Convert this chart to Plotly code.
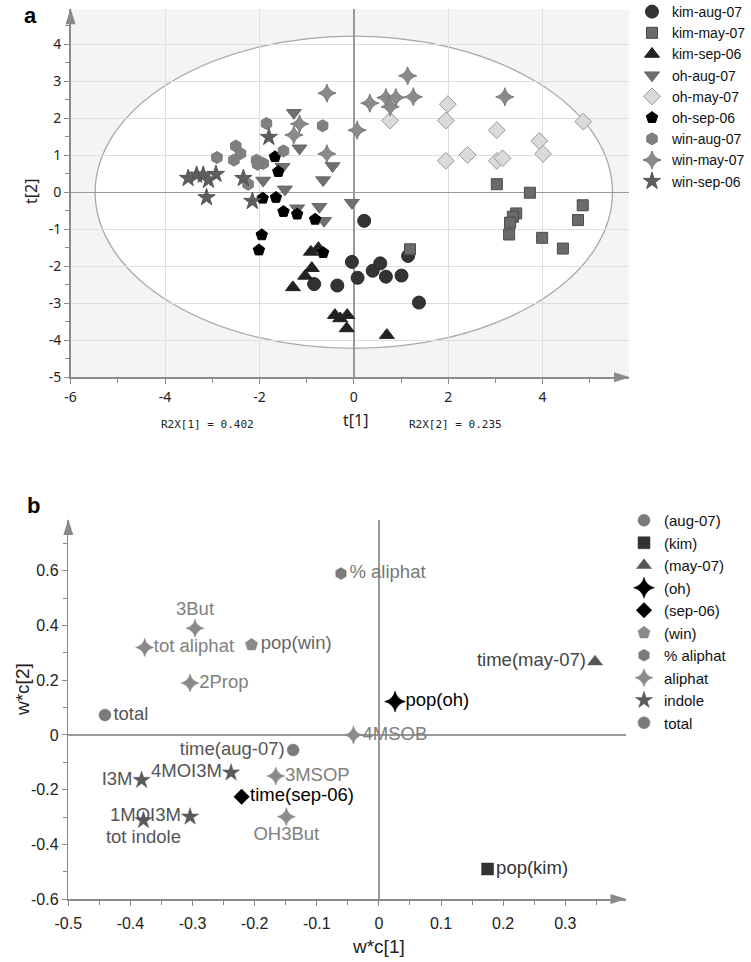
import plotly.graph_objects as go

# ---------------- Panel a: scores t[1] / t[2] ----------------
kim_aug07_x = [0.22, -0.04, 0.08, 0.40, 0.56, 0.68, 1.01, 1.15, 1.38, -0.35, -0.84]
kim_aug07_y = [-0.77, -1.88, -2.31, -2.12, -1.92, -2.28, -2.25, -1.72, -2.98, -2.52, -2.48]
kim_may07_x = [3.03, 3.73, 3.44, 3.37, 3.31, 3.29, 3.99, 4.43, 1.19, 4.85, 4.75]
kim_may07_y = [0.22, -0.01, -0.57, -0.66, -0.82, -1.14, -1.23, -1.52, -1.54, -0.35, -0.75]
kim_sep06_x = [-0.91, -0.75, -0.89, -1.03, -1.29, -0.40, -0.29, -0.14, -0.15, 0.70]
kim_sep06_y = [-1.61, -1.51, -2.05, -2.26, -2.57, -3.32, -3.41, -3.32, -3.68, -3.86]
oh_aug07_x = [-1.27, -1.15, -0.45, -0.65, -1.51, -1.92, -1.46, -1.20, -0.73, -0.63, -0.04]
oh_aug07_y = [2.15, 1.19, 0.71, 0.33, 0.69, 0.32, 0.08, -0.43, -0.39, -0.77, -0.28]
oh_may07_x = [1.99, 1.95, 0.77, 3.03, 3.93, 4.01, 4.86, 1.95, 2.41, 3.03, 3.15]
oh_may07_y = [2.38, 1.94, 1.94, 1.68, 1.39, 1.04, 1.91, 0.85, 1.01, 0.85, 0.92]
oh_sep06_x = [-1.67, -1.60, -1.93, -1.65, -1.49, -1.20, -0.82, -0.65, -1.95, -2.01]
oh_sep06_y = [0.96, 0.56, -0.16, -0.14, -0.52, -0.59, -0.73, -1.63, -1.15, -1.56]
win_aug07_x = [-2.90, -2.50, -2.40, -2.54, -2.06, -1.92, -2.04, -2.24, -1.85, -1.49, -0.66]
win_aug07_y = [0.94, 1.25, 1.05, 0.87, 0.87, 0.78, 0.76, 0.22, 1.86, 1.12, 1.80]
win_may07_x = [-0.57, -1.15, -1.27, -0.57, 1.14, 0.68, 0.89, 1.26, 0.77, 0.34, 3.20, 0.07]
win_may07_y = [2.68, 1.85, 1.55, 1.04, 3.15, 2.56, 2.56, 2.58, 2.31, 2.41, 2.58, 1.68]
win_sep06_x = [-3.51, -3.33, -3.19, -3.08, -2.92, -3.12, -2.34, -2.15, -1.80]
win_sep06_y = [0.38, 0.47, 0.47, 0.33, 0.49, -0.14, 0.38, -0.24, 1.49]

a_xtickvals = [-6, -4, -2, 0, 2, 4]
a_xticktext = ["-6", "-4", "-2", "0", "2", "4"]
a_ytickvals = [-5, -4, -3, -2, -1, 0, 1, 2, 3, 4]
a_yticktext = ["-5", "-4", "-3", "-2", "-1", "0", "1", "2", "3", "4"]

# ---------------- Panel b: loadings w*c[1] / w*c[2] ----------------
aug07_lab = ["time(aug-07)"]; aug07_x = [-0.138]; aug07_y = [-0.055]
kim_lab = ["pop(kim)"]; kim_x = [0.175]; kim_y = [-0.49]
may07_lab = ["time(may-07)"]; may07_x = [0.348]; may07_y = [0.268]
oh_lab = ["pop(oh)"]; oh_x = [0.026]; oh_y = [0.122]
sep06_lab = ["time(sep-06)"]; sep06_x = [-0.221]; sep06_y = [-0.226]
win_lab = ["pop(win)"]; win_x = [-0.205]; win_y = [0.33]
pct_lab = ["% aliphat"]; pct_x = [-0.061]; pct_y = [0.59]
aliphat_lab = ["3But", "tot aliphat", "2Prop", "4MSOB", "3MSOP", "OH3But"]
aliphat_x = [-0.296, -0.377, -0.304, -0.041, -0.166, -0.149]
aliphat_y = [0.39, 0.32, 0.19, 0.0, -0.15, -0.299]
indole_lab = ["I3M", "4MOI3M", "1MOI3M", "tot indole"]
indole_x = [-0.382, -0.238, -0.304, -0.379]
indole_y = [-0.165, -0.138, -0.299, -0.312]
total_lab = ["total"]; total_x = [-0.441]; total_y = [0.073]

b_xtickvals = [-0.5, -0.4, -0.3, -0.2, -0.1, 0, 0.1, 0.2, 0.3]
b_xticktext = ["-0.5", "-0.4", "-0.3", "-0.2", "-0.1", "0", "0.1", "0.2", "0.3"]
b_ytickvals = [-0.6, -0.4, -0.2, 0, 0.2, 0.4, 0.6]
b_yticktext = ["-0.6", "-0.4", "-0.2", "0", "0.2", "0.4", "0.6"]

W, H = 751, 962
def px(x):
    return x / W
def py(y):
    return 1 - y / H

fig = go.Figure()

def a_trace(name, xs, ys, symbol, color, line, size=13):
    fig.add_trace(go.Scatter(
        x=xs, y=ys, mode="markers", name=name, xaxis="x", yaxis="y",
        legend="legend",
        marker=dict(symbol=symbol, color=color, size=size,
                    line=dict(color=line, width=1))))

a_trace("kim-aug-07", kim_aug07_x, kim_aug07_y, "circle", "#333333", "#2a2a2a", 13)
a_trace("kim-may-07", kim_may07_x, kim_may07_y, "square", "#6b6b6b", "#4a4a4a", 11)
a_trace("kim-sep-06", kim_sep06_x, kim_sep06_y, "triangle-up", "#222222", "#222222", 13)
a_trace("oh-aug-07", oh_aug07_x, oh_aug07_y, "triangle-down", "#707070", "#666666", 13)
a_trace("oh-may-07", oh_may07_x, oh_may07_y, "diamond", "#dadada", "#9a9a9a", 13)
a_trace("oh-sep-06", oh_sep06_x, oh_sep06_y, "pentagon", "#000000", "#000000", 12)
a_trace("win-aug-07", win_aug07_x, win_aug07_y, "hexagon", "#808080", "#777777", 12)
a_trace("win-may-07", win_may07_x, win_may07_y, "star-diamond", "#8a8a8a", "#7a7a7a", 13)
a_trace("win-sep-06", win_sep06_x, win_sep06_y, "star", "#5e5e5e", "#555555", 13)

def b_trace(name, labs, xs, ys, symbol, color, size, tcolor, tpos):
    fig.add_trace(go.Scatter(
        x=xs, y=ys, mode="markers+text", name=name, xaxis="x2", yaxis="y2",
        legend="legend2", text=labs, textposition=tpos,
        textfont=dict(family="Liberation Sans, Arial", size=18.5, color=tcolor),
        marker=dict(symbol=symbol, color=color, size=size,
                    line=dict(color=color, width=0.5))))

b_trace("(aug-07)", aug07_lab, aug07_x, aug07_y, "circle", "#7b7b7b", 12, "#555555", "middle left")
b_trace("(kim)", kim_lab, kim_x, kim_y, "square", "#333333", 12, "#333333", "middle right")
b_trace("(may-07)", may07_lab, may07_x, may07_y, "triangle-up", "#555555", 13, "#444444", "middle left")
b_trace("(oh)", oh_lab, oh_x, oh_y, "star-diamond", "#000000", 15, "#000000", "middle right")
b_trace("(sep-06)", sep06_lab, sep06_x, sep06_y, "diamond", "#000000", 12, "#000000", "middle right")
b_trace("(win)", win_lab, win_x, win_y, "pentagon", "#8a8a8a", 13, "#666666", "middle right")
b_trace("% aliphat", pct_lab, pct_x, pct_y, "hexagon", "#7a7a7a", 12, "#777777", "middle right")
b_trace("aliphat", aliphat_lab, aliphat_x, aliphat_y, "star-diamond", "#8a8a8a", 13, "#808080",
        ["top center", "middle right", "middle right", "middle right", "middle right", "bottom center"])
b_trace("indole", indole_lab, indole_x, indole_y, "star", "#5a5a5a", 13, "#555555",
        ["middle left", "middle left", "middle left", "bottom center"])
b_trace("total", total_lab, total_x, total_y, "circle", "#7b7b7b", 12, "#555555", "middle right")

tickfont_a = dict(family="Noto Sans, Open Sans, Arial", size=14, color="#222222")
tickfont_b = dict(family="Liberation Sans, Arial", size=16, color="#222222")

# panel geometry (pixels)
a_x0, a_x1 = 70.6, 629.0
a_ybot, a_ytop = 377.3, 9.2
b_x0, b_x1 = 68.3, 625.5
b_ybot, b_ytop = 899.1, 520.0

axcommon = dict(automargin=False, showline=True, linecolor="#8a8a8a", linewidth=1.5,
                ticks="outside", ticklen=5, tickcolor="#8a8a8a",
                zeroline=True, zerolinecolor="#999999", zerolinewidth=1.5)

fig.update_layout(
    width=W, height=H, margin=dict(l=0, r=0, t=0, b=0, pad=0, autoexpand=False),
    paper_bgcolor="white", plot_bgcolor="white",
    showlegend=True, hovermode=False,
    xaxis=dict(domain=[px(a_x0), px(a_x1)], range=[-6, 5.83], anchor="y",
               tickmode="array", tickvals=a_xtickvals, ticktext=a_xticktext,
               showgrid=True, gridcolor="#dedede", gridwidth=1,
               minor=dict(tickmode="linear", tick0=0, dtick=1, ticks="outside",
                          ticklen=4, tickcolor="#8a8a8a", showgrid=False),
               tickfont=tickfont_a, ticklabelstandoff=1, **axcommon),
    yaxis=dict(domain=[py(a_ybot), py(a_ytop)], range=[-5, 4.95], anchor="x",
               tickmode="array", tickvals=a_ytickvals, ticktext=a_yticktext,
               showgrid=True, gridcolor="#dedede", gridwidth=1,
               minor=dict(tickmode="linear", tick0=0, dtick=0.5, ticks="outside",
                          ticklen=4, tickcolor="#8a8a8a", showgrid=False),
               tickfont=tickfont_a, **axcommon),
    xaxis2=dict(domain=[px(b_x0), px(b_x1)], range=[-0.5, 0.397], anchor="y2",
                tickmode="array", tickvals=b_xtickvals, ticktext=b_xticktext,
                showgrid=False,
                minor=dict(tickmode="linear", tick0=0, dtick=0.05, ticks="outside",
                           ticklen=4, tickcolor="#8a8a8a", showgrid=False),
                tickfont=tickfont_b, ticklabelstandoff=4, **axcommon),
    yaxis2=dict(domain=[py(b_ybot), py(b_ytop)], range=[-0.6, 0.786], anchor="x2",
                tickmode="array", tickvals=b_ytickvals, ticktext=b_yticktext,
                showgrid=False,
                minor=dict(tickmode="linear", tick0=0, dtick=0.1, ticks="outside",
                           ticklen=4, tickcolor="#8a8a8a", showgrid=False),
                tickfont=tickfont_b, **axcommon),
    legend=dict(x=px(632), y=py(-4), xanchor="left", yanchor="top",
                bgcolor="rgba(0,0,0,0)", font=dict(family="Liberation Sans, Arial", size=14, color="#111111"),
                tracegroupgap=0, itemsizing="trace"),
    legend2=dict(x=px(624), y=py(504), xanchor="left", yanchor="top",
                 bgcolor="rgba(0,0,0,0)", font=dict(family="Liberation Sans, Arial", size=15, color="#111111"),
                 tracegroupgap=0, itemsizing="trace"),
)

# background of panel a (grey outside ellipse), white ellipse (Hotelling T2)
fig.add_shape(type="rect", xref="x domain", yref="y domain", x0=0, x1=1, y0=0, y1=1,
              fillcolor="#f4f4f4", line=dict(width=0), layer="below")
fig.add_shape(type="circle", xref="x", yref="y", x0=-5.48, x1=5.48, y0=-4.22, y1=4.22,
              fillcolor="white", line=dict(color="#a8a8a8", width=1.3), layer="below")

# axis arrowheads
def arrow_right(xtip, ytip):
    fig.add_shape(type="path", xref="paper", yref="paper",
                  path=f"M {px(xtip)} {py(ytip)} L {px(xtip-16)} {py(ytip-5)} L {px(xtip-16)} {py(ytip+5)} Z",
                  fillcolor="#8a8a8a", line=dict(width=0))
def arrow_up(xtip, ytip):
    fig.add_shape(type="path", xref="paper", yref="paper",
                  path=f"M {px(xtip)} {py(ytip)} L {px(xtip-5)} {py(ytip+16)} L {px(xtip+5)} {py(ytip+16)} Z",
                  fillcolor="#8a8a8a", line=dict(width=0))

arrow_right(a_x1 + 1, a_ybot)
arrow_up(a_x0, a_ytop - 1)
arrow_right(b_x1 + 1, b_ybot)
arrow_up(b_x0, b_ytop - 1)

def note(text, x, y, size, family="Liberation Sans, Arial", angle=0, color="#222222"):
    return dict(text=text, x=px(x), y=py(y), xref="paper", yref="paper", showarrow=False,
                xanchor="center", yanchor="middle", textangle=angle,
                font=dict(family=family, size=size, color=color))

ann = [
    note("<b>a</b>", 30, 15, 22, color="black"),
    note("<b>b</b>", 33, 505, 22, color="black"),
    note("t[2]", 31, 192, 16, family="Noto Sans, Open Sans", angle=-90),
    note("t[1]", 355, 420, 16, family="Noto Sans, Open Sans"),
    note("R2X[1] = 0.402", 208, 424, 11, family="DejaVu Sans Mono"),
    note("R2X[2] = 0.235", 455, 424, 11, family="DejaVu Sans Mono"),
    note("w*c[2]", 22, 690, 19, angle=-90),
    note("w*c[1]", 378, 946, 19),
]
fig.update_layout(annotations=ann)

fig.write_html("out.html",
               config={"displayModeBar": False, "staticPlot": True},
               post_script="document.body.style.margin='0px';document.body.style.padding='0px';document.body.style.overflow='hidden';")
